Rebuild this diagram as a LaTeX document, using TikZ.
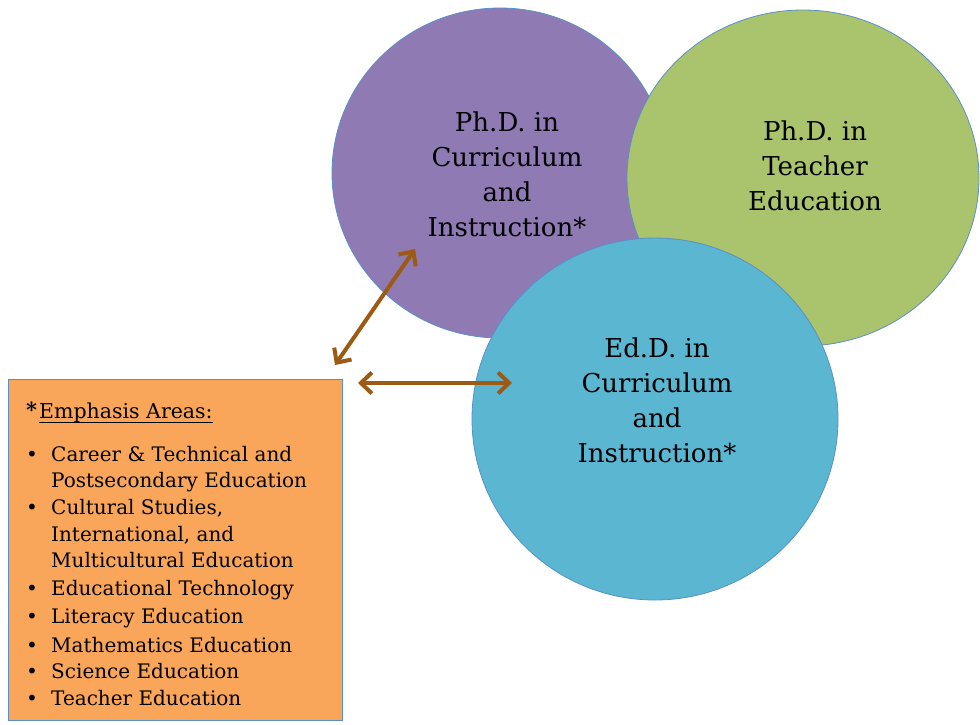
\documentclass[tikz,border=0pt]{standalone}
\usepackage{fontspec}
\setmainfont{DejaVu Serif}
\usetikzlibrary{shapes.geometric,arrows.meta}
\definecolor{purp}{HTML}{8F7AB3}
\definecolor{grn}{HTML}{A9C46D}
\definecolor{blu}{HTML}{5AB6D1}
\definecolor{org}{HTML}{F9A65A}
\definecolor{edge}{HTML}{5B8FC9}
\definecolor{brn}{HTML}{9C5A14}
\begin{document}
\begin{tikzpicture}[x=1pt,y=-1pt,
  circ/.style={ellipse,draw=edge,line width=0.8pt,inner sep=0pt,align=center,
    font=\fontsize{26}{35}\selectfont,text=black},
  ctext/.style={align=center,font=\fontsize{26}{35}\selectfont,inner sep=0pt},
  item/.style={anchor=base west,inner sep=0pt,font=\fontsize{20}{27}\selectfont},
  bul/.style={anchor=base,inner sep=0pt,font=\fontsize{20}{27}\selectfont},
  conn/.style={draw=brn,line width=4pt,{Straight Barb[length=11pt,width=21pt,line width=4pt]}-{Straight Barb[length=11pt,width=21pt,line width=4pt]}}]
\useasboundingbox (0,0) rectangle (980,724);
\fill[white] (0,0) rectangle (980,724);
% circles
\node[circ,fill=purp,minimum width=336pt,minimum height=330pt] (phdci) at (500,173) {};
\node[circ,fill=grn,minimum width=352pt,minimum height=336pt] (phdte) at (803,178) {};
\node[circ,fill=blu,minimum width=366pt,minimum height=362pt] (edd) at (655,419) {};
\node[ctext] (tci) at (507,174) {Ph.D. in\\Curriculum\\and\\Instruction*};
\node[ctext] (tte) at (815,166) {Ph.D. in\\Teacher\\Education};
\node[ctext] (ted) at (657,400) {Ed.D. in\\Curriculum\\and\\Instruction*};
% box
\node[draw=edge,line width=1pt,fill=org,minimum width=334pt,minimum height=341pt,inner sep=0pt] (box) at (175,550) {};
\node[anchor=base west,inner sep=0pt,font=\fontsize{21}{27}\selectfont\bfseries] (star) at (26,417) {*};
\node[anchor=base west,inner sep=0pt,font=\fontsize{20.5}{27}\selectfont] (head) at (39,418) {Emphasis Areas:};
\draw[line width=0.9pt] (head.base west) ++(0,4) coordinate (ul1) -- (head.base east |- ul1) coordinate (ul2);
\foreach \y/\t/\b [count=\i] in {461/Career \& Technical and/1,487/Postsecondary Education/0,514/{Cultural Studies,}/1,541/{International, and}/0,567/Multicultural Education/0,595/Educational Technology/1,623/Literacy Education/1,652/Mathematics Education/1,678/Science Education/1,705/Teacher Education/1}{
  \node[item] (it\i) at (51,\y) {\t};
  \ifnum\b=1 \node[bul] (b\i) at (32,\y) {\textbullet}; \fi
}
% arrows
\coordinate (a1) at (335,365);
\coordinate (a2) at (415,249);
\coordinate (h1) at (358,383);
\coordinate (h2) at (512,383);
\draw[conn] (a1) -- (a2);
\draw[conn] (h1) -- (h2);
\end{tikzpicture}
\end{document}
